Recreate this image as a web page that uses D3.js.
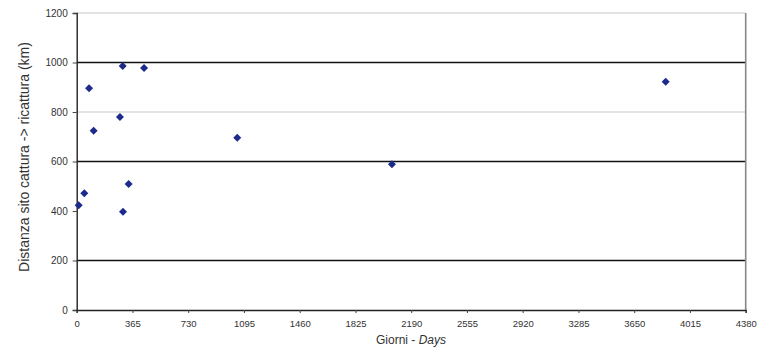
<!DOCTYPE html>
<html><head><meta charset="utf-8">
<script src="https://cdn.jsdelivr.net/npm/d3@7"></script>
<style>body{margin:0;background:#fff}svg{display:block;font-family:Arial,"Liberation Sans",sans-serif}</style>
</head><body>
<script>
const days = [13, 50, 81, 111, 283, 301, 303, 340, 441, 1051, 2064, 3856];
const distKm = [423, 472, 896, 724, 780, 986, 397, 509, 978, 696, 589, 922];
const xTicks = [0, 365, 730, 1095, 1460, 1825, 2190, 2555, 2920, 3285, 3650, 4015, 4380];
const yTicks = [0, 200, 400, 600, 800, 1000, 1200];
const darkGrid = [200, 600, 1000];
const lightGrid = [800, 1200];

const W = 772, H = 351;
const svg = d3.select("body").append("svg").attr("width", W).attr("height", H);
const x = d3.scaleLinear().domain([0, 4380]).range([76.7, 745.7]);
const y = d3.scaleLinear().domain([0, 1200]).range([310, 13]);

// grid lines
svg.selectAll(".gl").data(lightGrid).join("line")
  .attr("x1", x(0)).attr("x2", x(4380)).attr("y1", d => y(d)).attr("y2", d => y(d))
  .attr("stroke", "#c8c8c8").attr("stroke-width", 1.2);
svg.selectAll(".gd").data(darkGrid).join("line")
  .attr("x1", x(0)).attr("x2", x(4380)).attr("y1", d => y(d)).attr("y2", d => y(d))
  .attr("stroke", "#111").attr("stroke-width", 1.3);
// right border
svg.append("line").attr("x1", x(4380)).attr("x2", x(4380)).attr("y1", y(1200)).attr("y2", y(0))
  .attr("stroke", "#888").attr("stroke-width", 1.6);

// axes
const xAxis = d3.axisBottom(x).tickValues(xTicks).tickSize(3).tickPadding(7).tickFormat(d3.format("d"));
const gx = svg.append("g").attr("transform", `translate(0,${y(0)})`).call(xAxis);
gx.select(".domain").attr("stroke", "#222").attr("stroke-width", 1.4);
gx.selectAll(".tick line").attr("stroke", "#444");
gx.selectAll("text").attr("font-size", 9.5).attr("fill", "#333");

const yAxis = d3.axisLeft(y).tickValues(yTicks).tickSize(4).tickPadding(5).tickFormat(d3.format("d"));
const gy = svg.append("g").attr("transform", `translate(${x(0)},0)`).call(yAxis);
gy.select(".domain").attr("stroke", "#222").attr("stroke-width", 1.4);
gy.selectAll(".tick line").attr("stroke", "#444");
gy.selectAll("text").attr("font-size", 10).attr("fill", "#333");

// points
const sym = d3.symbol().type(d3.symbolSquare).size(32);
svg.selectAll(".pt").data(days.map((d, i) => [d, distKm[i]])).join("path")
  .attr("d", sym)
  .attr("transform", d => `translate(${x(d[0])},${y(d[1])}) rotate(45)`)
  .attr("fill", "#1c2a8c");

// labels
svg.append("text").attr("transform", `translate(25,157) rotate(-90)`)
  .attr("text-anchor", "middle").attr("dominant-baseline", "middle")
  .attr("font-size", 14).attr("fill", "#333")
  .text("Distanza sito cattura -> ricattura (km)");
const xl = svg.append("text").attr("x", 411).attr("y", 344)
  .attr("text-anchor", "middle").attr("font-size", 12).attr("fill", "#333");
xl.append("tspan").text("Giorni - ");
xl.append("tspan").attr("font-style", "italic").text("Days");
</script>
</body></html>
